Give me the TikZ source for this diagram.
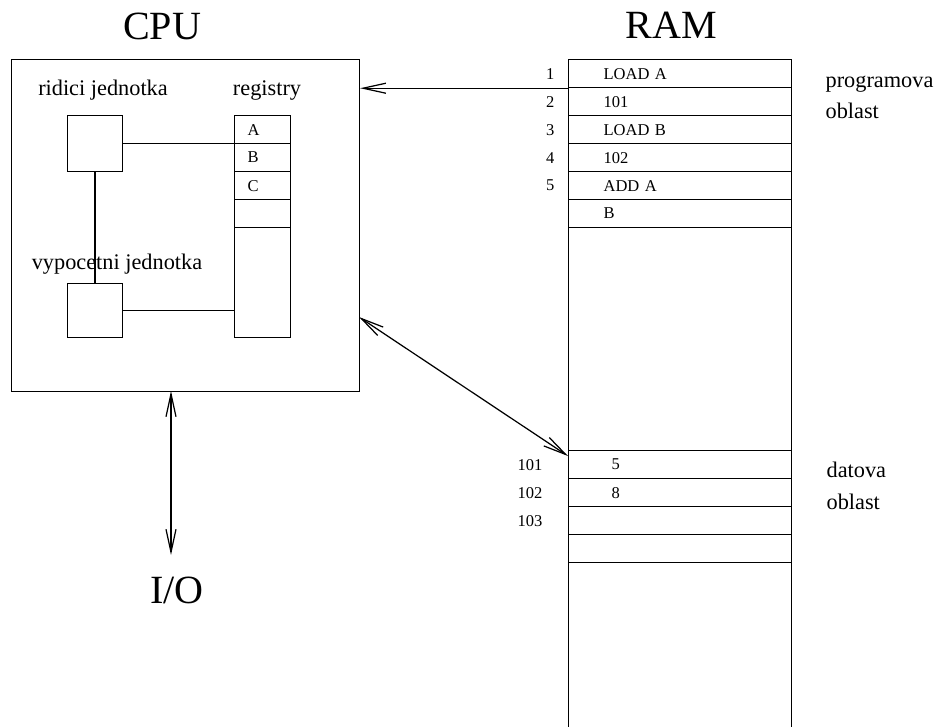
\documentclass[tikz,border=0pt]{standalone}
\usepackage{fontspec}
\setmainfont{Liberation Serif}
\usetikzlibrary{arrows.meta,positioning}

\begin{document}
\begin{tikzpicture}[
  x=0.02cm, y=-0.02cm,
  line width=0.7pt,
  line cap=round,
  box/.style={draw, anchor=north west, inner sep=0pt},
  cell/.style={draw, anchor=north west, inner sep=0pt,
    minimum width=4.46cm, minimum height=0.56cm,
    text width=3.06cm, align=left, font=\fontsize{9.4}{11}\selectfont},
  regcell/.style={cell, minimum width=1.12cm, text width=0.6cm},
  datcell/.style={cell, text width=2.74cm},
  num/.style={inner sep=0pt, font=\fontsize{9.4}{11}\selectfont},
  lab/.style={inner sep=0pt, anchor=base, font=\fontsize{12.7}{17}\selectfont},
  area/.style={lab, anchor=base west},
  big/.style={inner sep=0pt, anchor=base, font=\fontsize{22.8}{27}\selectfont},
  barb/.style={-{Straight Barb[length=13pt,width=5.7pt]}},
  twobarb/.style={{Straight Barb[length=13pt,width=5.7pt]}-{Straight Barb[length=13pt,width=5.7pt]}}
]
\clip (0,0) rectangle (937,727);

% --- titles ---
\node[big] (cputitle) at (162,39) {CPU};
\node[big] (ramtitle) at (671,38) {RAM};
\node[big] (io) at (177,603) {I/O};

% --- CPU and its parts ---
\node[box, minimum width=6.96cm, minimum height=6.64cm] (cpu) at (11,59) {};
\node[box, minimum width=1.1cm, minimum height=1.12cm] (ctrl) at (67,115) {};
\node[box, minimum width=1.1cm, minimum height=1.08cm] (alu) at (67,283) {};
\node[box, minimum width=1.12cm, minimum height=4.44cm] (regs) at (234,115) {};
\foreach \r [count=\i from 0] in {A,B,C,{}}
  \node[regcell] (reg\i) at (234,115+28*\i) {\r};

\node[lab] (ctrllab) at (103,95) {ridici jednotka};
\node[lab] (regslab) at (267,95) {registry};
\node[lab] (alulab) at (117,269) {vypocetni jednotka};

\draw (ctrl.east) -- (ctrl.east -| regs.west);
\draw (ctrl) -- (alu);
\draw (alu.east) -- (alu.east -| regs.west);

% --- RAM ---
\node[box, minimum width=4.46cm, minimum height=14cm] (ram) at (568,59) {};
\foreach \t [count=\i] in {LOAD A,101,LOAD B,102,ADD A,B}
  \node[cell] (r\i) at (568,31+28*\i) {\t};
\foreach \i in {1,...,5}
  \node[num, left=0.26cm of r\i] (n\i) {\i};

\foreach \t [count=\i] in {5,8,{},{}}
  \node[datcell] (d\i) at (568,422+28*\i) {\t};
\foreach \i/\a in {1/101,2/102,3/103}
  \node[num, left=0.5cm of d\i] (a\i) {\a};

\node[area] (prog1) at (825,87) {programova};
\node[area] (prog2) at (825,118) {oblast};
\node[area] (dat1) at (826,477) {datova};
\node[area] (dat2) at (826,509) {oblast};

% --- buses ---
\coordinate (cpubus) at (359,317);
\coordinate (rambus) at (568,456);
\coordinate (iotop) at (171,391);
\coordinate (iobot) at (171,555);

\draw[barb] (r1.south west) -- (cpu.east |- r1.south west);
\draw[twobarb] (cpubus) -- (rambus);
\draw[twobarb] (iotop) -- (iobot);
\end{tikzpicture}
\end{document}
